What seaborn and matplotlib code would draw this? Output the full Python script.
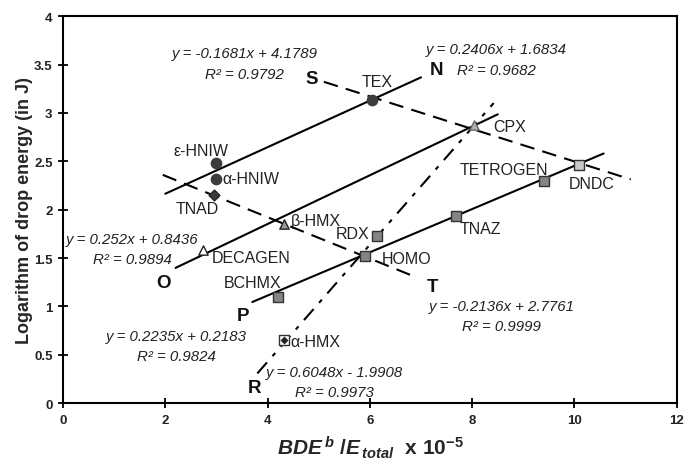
import numpy as np
import matplotlib
matplotlib.use("Agg")
import matplotlib.pyplot as plt
import pandas as pd
import seaborn as sns

# compounds
names = ["TEX", "ε-HNIW", "α-HNIW", "TNAD", "β-HMX", "DECAGEN", "CPX",
         "RDX", "HOMO", "BCHMX", "TNAZ", "TETROGEN", "DNDC", "α-HMX"]
bde = [6.04, 2.99, 2.99, 2.95, 4.32, 2.73, 8.03,
       6.13, 5.90, 4.20, 7.69, 9.40, 10.08, 4.32]
logE = [3.13, 2.48, 2.32, 2.15, 1.85, 1.58, 2.87,
        1.73, 1.52, 1.10, 1.93, 2.30, 2.46, 0.65]
kind = ["circle", "circle", "circle", "diamond", "tri_gray", "tri_white", "tri_light",
        "square", "square", "square", "square", "square", "square_light", "square_white"]

# fitted lines: name, slope, intercept, R2, x-range, linestyle
line_names = ["N", "O", "P", "R", "S", "T"]
slopes = [0.2406, 0.252, 0.2235, 0.6048, -0.1681, -0.2136]
intercepts = [1.6834, 0.8436, 0.2183, -1.9908, 4.1789, 2.7761]
r2 = [0.9682, 0.9894, 0.9824, 0.9973, 0.9792, 0.9999]
x_start = [2.0, 2.2, 3.7, 3.8, 5.1, 1.95]
x_end = [7.0, 8.5, 10.57, 8.42, 11.1, 6.9]
styles = ["solid", "solid", "solid", "dashdot", "dashed", "dashed"]

df = pd.DataFrame({"name": names, "x": bde, "y": logE, "kind": kind})

sns.set_theme(style="white")
plt.rcParams["font.family"] = ["Liberation Sans", "DejaVu Sans"]
plt.rcParams["mathtext.fontset"] = "custom"
plt.rcParams["mathtext.it"] = "Liberation Sans:italic:bold"
plt.rcParams["mathtext.rm"] = "Liberation Sans:bold"
plt.rcParams["mathtext.bf"] = "Liberation Sans:bold"

fig = plt.figure(figsize=(6.85, 4.64), dpi=100)
ax = fig.add_axes([0.092, 0.129, 0.896, 0.834])

# regression lines
dash = {"solid": (None, None), "dashed": (0, (7, 4)), "dashdot": (0, (7, 4, 2, 4))}
for nm, m, b, xa, xb, st in zip(line_names, slopes, intercepts, x_start, x_end, styles):
    xx = np.array([xa, xb])
    seg = pd.DataFrame({"x": xx, "y": m * xx + b})
    kw = {} if st == "solid" else {"linestyle": dash[st]}
    sns.lineplot(data=seg, x="x", y="y", color="black", linewidth=1.5, ax=ax, **kw)

# markers
mstyle = {
    "circle": dict(marker="o", s=55, color="#3c3c3c", edgecolor="#3c3c3c"),
    "diamond": dict(marker="D", s=30, color="#3c3c3c", edgecolor="#222222"),
    "tri_gray": dict(marker="^", s=45, color="#9a9a9a", edgecolor="#222222"),
    "tri_white": dict(marker="^", s=45, color="white", edgecolor="#222222"),
    "tri_light": dict(marker="^", s=45, color="#b0b0b0", edgecolor="#666666"),
    "square": dict(marker="s", s=50, color="#858585", edgecolor="#333333"),
    "square_light": dict(marker="s", s=50, color="#c8c8c8", edgecolor="#333333"),
    "square_white": dict(marker="s", s=50, color="white", edgecolor="#333333"),
}
for k, sub in df.groupby("kind"):
    sns.scatterplot(data=sub, x="x", y="y", ax=ax, linewidth=1, zorder=5, **mstyle[k])
ah = df[df["name"] == "α-HMX"]
sns.scatterplot(data=ah, x="x", y="y", ax=ax, marker="D", s=14, color="#222222",
                edgecolor="#222222", zorder=6)

# compound labels (x, y, ha)
lab_pos = {
    "TEX": (6.15, 3.32, "center"), "ε-HNIW": (2.7, 2.61, "center"),
    "α-HNIW": (3.12, 2.32, "left"), "TNAD": (2.62, 2.01, "center"),
    "β-HMX": (4.45, 1.89, "left"), "DECAGEN": (2.9, 1.51, "left"),
    "CPX": (8.42, 2.86, "left"), "RDX": (5.99, 1.75, "right"),
    "HOMO": (6.24, 1.50, "left"), "BCHMX": (3.71, 1.25, "center"),
    "TNAZ": (7.75, 1.81, "left"), "TETROGEN": (8.61, 2.42, "center"),
    "DNDC": (10.33, 2.27, "center"), "α-HMX": (4.45, 0.64, "left"),
}
for nm in names:
    tx, ty, ha = lab_pos[nm]
    ax.text(tx, ty, nm, ha=ha, va="center", fontsize=11.5, color="#222222")

# line letters and equations
letter_pos = {"N": (7.3, 3.45), "O": (1.97, 1.25), "P": (3.52, 0.91),
              "R": (3.75, 0.16), "S": (4.86, 3.36), "T": (7.23, 1.21)}
eq_pos = {"N": (8.48, 3.66, 3.44), "O": (1.35, 1.70, 1.49), "P": (2.22, 0.69, 0.49),
          "R": (5.3, 0.32, 0.12), "S": (3.55, 3.62, 3.40), "T": (8.57, 1.00, 0.80)}
for nm, m, b, r in zip(line_names, slopes, intercepts, r2):
    lx, ly = letter_pos[nm]
    ax.text(lx, ly, nm, ha="center", va="center", fontsize=13.5, fontweight="bold",
            color="#111111")
    ex, ey1, ey2 = eq_pos[nm]
    sign = "+" if b >= 0 else "-"
    ax.text(ex, ey1, f"y = {m:g}x {sign} {abs(b):.4f}", ha="center", va="center",
            fontsize=10.8, style="italic", color="#222222")
    ax.text(ex, ey2, f"R² = {r:.4f}", ha="center", va="center",
            fontsize=10.8, style="italic", color="#222222")

ax.set_xlim(0, 12)
ax.set_ylim(0, 4)
ax.set_xticks(np.arange(0, 13, 2))
ax.set_yticks(np.arange(0, 4.01, 0.5))
ax.set_yticklabels([f"{v:g}" for v in np.arange(0, 4.01, 0.5)])
ax.tick_params(direction="inout", length=7, width=1.3, color="black",
               labelsize=9.5, pad=4, left=True, bottom=True)
for lbl in ax.get_xticklabels() + ax.get_yticklabels():
    lbl.set_fontweight("bold")
    lbl.set_color("#222222")
for sp in ax.spines.values():
    sp.set_linewidth(1.5)
    sp.set_color("black")

ax.set_xlabel(r"$BDE^{\,b}$ /$E_{\,total}$  x 10$^{-5}$", fontsize=15,
              fontweight="bold", labelpad=6)
ax.set_ylabel("Logarithm of drop energy (in J)", fontsize=13, fontweight="bold",
              labelpad=1)

fig.savefig("out.png", dpi=100)
